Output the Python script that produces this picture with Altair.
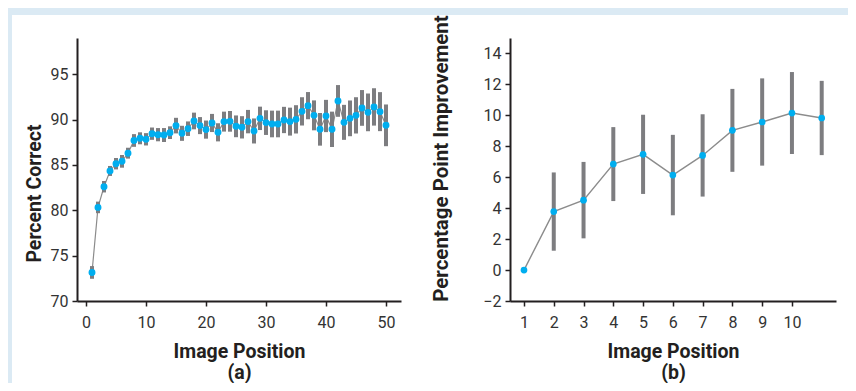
import altair as alt
import pandas as pd

# ---- data ----
left_pos = list(range(1, 51))
left_mean = [73.15, 80.32, 82.6, 84.34, 85.14, 85.4, 86.3, 87.7, 87.94, 87.83,
             88.45, 88.34, 88.3, 88.56, 89.34, 88.49, 89.0, 89.85, 89.34, 88.9,
             89.63, 88.6, 89.78, 89.81, 89.26, 89.15, 89.78, 88.75, 90.14, 89.67,
             89.52, 89.52, 89.96, 89.78, 90.03, 90.91, 91.54, 90.47, 88.93, 90.4,
             88.93, 92.06, 89.7, 90.14, 90.47, 91.29, 90.8, 91.4, 90.88, 89.37]
left_err = [0.7, 0.64, 0.63, 0.55, 0.63, 0.7, 0.6, 0.7, 0.66, 0.68,
            0.68, 0.73, 0.77, 0.7, 0.86, 0.83, 0.8, 0.92, 0.94, 1.0,
            1.0, 1.0, 1.1, 1.14, 1.2, 1.23, 1.29, 1.38, 1.29, 1.36,
            1.47, 1.47, 1.45, 1.54, 1.56, 1.56, 1.5, 1.65, 1.8, 1.78,
            1.95, 1.75, 1.93, 1.97, 2.0, 1.97, 2.08, 2.06, 2.15, 2.3]

right_pos = list(range(1, 12))
right_mean = [0.0, 3.78, 4.52, 6.85, 7.48, 6.14, 7.41, 9.03, 9.57, 10.15, 9.83]
right_err = [0.0, 2.53, 2.47, 2.39, 2.56, 2.6, 2.66, 2.68, 2.82, 2.65, 2.4]

left_ticks_x = [0, 10, 20, 30, 40, 50]
left_ticks_y = [70, 75, 80, 85, 90, 95]
right_ticks_x = list(range(1, 11))
right_ticks_y = [-2, 0, 2, 4, 6, 8, 10, 12, 14]

BLUE = "#00aeef"
BAR = "#7d7d80"
LINE = "#8c8c8c"
INK = "#231f20"

dl = pd.DataFrame({"pos": left_pos, "mean": left_mean, "err": left_err})
dl["lo"] = dl["mean"] - dl["err"]
dl["hi"] = dl["mean"] + dl["err"]
dr = pd.DataFrame({"pos": right_pos, "mean": right_mean, "err": right_err})
dr["lo"] = dr["mean"] - dr["err"]
dr["hi"] = dr["mean"] + dr["err"]

def axis_kw(title_size=19.5):
    return dict(grid=False, domainColor=INK, domainWidth=2, tickColor=INK,
                tickWidth=1.5, tickSize=5, labelFont="Roboto", labelFontSize=16,
                labelColor="#333333", labelOverlap=False, labelSeparation=0,
                titleFont="Roboto", titleFontWeight="bold",
                titleFontSize=title_size, titleColor=INK, zindex=1)

H = 263

# ----- left panel -----
lx_scale = alt.Scale(domain=[-1.5, 52.5], nice=False, zero=False)
ly_scale = alt.Scale(domain=[70, 99.0], nice=False, zero=False)
lx_axis = alt.Axis(values=left_ticks_x, title=["Image Position", "(a)"],
                   titleLineHeight=21, labelPadding=8, titlePadding=12, **axis_kw())
ly_axis = alt.Axis(values=left_ticks_y, title="Percent Correct",
                   labelPadding=4, titlePadding=6, titleY=155, **axis_kw())
lx = alt.X("pos:Q", scale=lx_scale, axis=lx_axis)

panel_bg = alt.Chart(pd.DataFrame({"k": [0]})).mark_rect(color="white").encode(
    x=alt.value(-65), x2=alt.value(771), y=alt.value(-23), y2=alt.value(345))

base_l = alt.Chart(dl)
l_line = base_l.mark_line(color=LINE, strokeWidth=1.2).encode(
    x=lx, y=alt.Y("mean:Q", scale=ly_scale, axis=ly_axis))
l_err = base_l.mark_rule(color=BAR, strokeWidth=4).encode(
    x=lx, y=alt.Y("lo:Q", scale=ly_scale, axis=ly_axis), y2="hi:Q")
l_pts = base_l.mark_circle(color=BLUE, size=48, opacity=1).encode(
    x=lx, y=alt.Y("mean:Q", scale=ly_scale, axis=ly_axis))
left = alt.layer(panel_bg, l_line, l_err, l_pts).properties(width=324, height=H)

# ----- right panel -----
rx_scale = alt.Scale(domain=[0.53, 11.48], nice=False, zero=False)
ry_scale = alt.Scale(domain=[-2, 15], nice=False, zero=False)
rx_axis = alt.Axis(values=right_ticks_x, title=["Image Position", "(b)"],
                   titleLineHeight=21, labelPadding=8, titlePadding=12, **axis_kw())
ry_axis = alt.Axis(values=right_ticks_y, title="Percentage Point Improvement",
                   labelPadding=4, titlePadding=31, titleY=120, **axis_kw(20.5))
rx = alt.X("pos:Q", scale=rx_scale, axis=rx_axis)

base_r = alt.Chart(dr)
r_line = base_r.mark_line(color=LINE, strokeWidth=1.4).encode(
    x=rx, y=alt.Y("mean:Q", scale=ry_scale, axis=ry_axis))
r_err = base_r.mark_rule(color=BAR, strokeWidth=4).encode(
    x=rx, y=alt.Y("lo:Q", scale=ry_scale, axis=ry_axis), y2="hi:Q")
r_pts = base_r.mark_circle(color=BLUE, size=45, opacity=1).encode(
    x=rx, y=alt.Y("mean:Q", scale=ry_scale, axis=ry_axis))
right = alt.layer(r_line, r_err, r_pts).properties(width=326, height=H)

chart = alt.hconcat(left, right, spacing=109, bounds="flush").configure(
    background="#dbeaf4",
    padding={"left": 4, "top": 6, "right": 0, "bottom": 0},
).configure_view(strokeWidth=0).configure_axis(labelOverlap=False)

chart.save("out.html", embed_options={"renderer": "svg", "actions": False})
